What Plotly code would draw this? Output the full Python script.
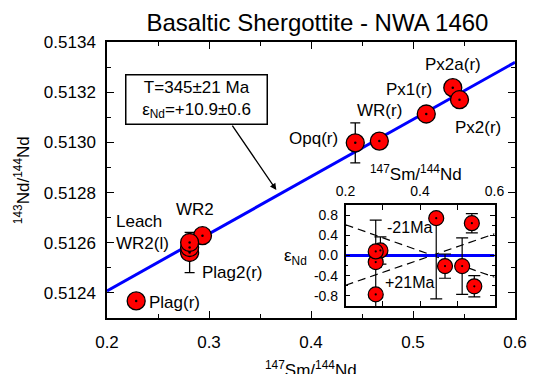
import plotly.graph_objects as go

FONT = "Liberation Sans, Arial, sans-serif"

# ---------------- data ----------------
samples = ["Plag(r)", "Plag2(r)", "WR2b", "WR2", "Leach WR2(l)", "Opq(r)", "WR(r)", "Px1(r)", "Px2a(r)", "Px2(r)"]
sm_nd = [0.2286, 0.281, 0.281, 0.2936, 0.281, 0.4434, 0.467, 0.513, 0.539, 0.5456]
nd_nd = [0.512368, 0.512561, 0.512581, 0.512628, 0.512601, 0.512998, 0.513005, 0.513113, 0.513218, 0.513170]
nd_err = [0, 0.00008, 0, 0, 0, 0.00008, 0, 0, 0, 0]

# isochron
iso_x = [0.2, 0.6]
iso_y = [0.512408, 0.513319]

# inset: epsilon Nd deviation from isochron
eps_x = [0.281, 0.281, 0.2936, 0.281, 0.4434, 0.467, 0.513, 0.539, 0.5456]
eps_y = [-0.77, -0.13, 0.10, 0.08, 0.74, -0.21, -0.21, 0.64, -0.61]
eps_err_plus = [1.47, 0.10, 0.27, 0.10, 0.0, 0.24, 0.56, 0.19, 0.21]
eps_err_minus = [1.47, 0.10, 0.27, 0.10, 1.60, 0.24, 0.56, 0.19, 0.21]

ref_x = [0.2, 0.6]
ref_y = [0.0, 0.0]
minus21_y = [0.61, -0.43]
plus21_y = [-0.59, 0.43]

main_xticks = [0.2, 0.3, 0.4, 0.5, 0.6]
main_yticks = [0.5124, 0.5126, 0.5128, 0.5130, 0.5132, 0.5134]
inset_xticks = [0.2, 0.3, 0.4, 0.5, 0.6]
inset_xlabels = ["0.2", "", "0.4", "", "0.6"]
inset_yticks = [-0.8, -0.4, 0.0, 0.4, 0.8]
inset_ylabels = ["-0.8", "-0.4", "0.0", "0.4", "0.8"]

# label offsets (pixels) relative to each point
labels = {
    "Plag(r)": ("Plag(r)", 11, -2, "left"),
    "Leach WR2(l)": ("Leach<br>WR2(l)", -19, 10, "right"),
    "WR2": ("WR2", -7, 26, "center"),
    "Plag2(r)": ("Plag2(r)", 10, -20, "left"),
    "Opq(r)": ("Opq(r)", -15, 4, "right"),
    "WR(r)": ("WR(r)", 0, 31, "center"),
    "Px1(r)": ("Px1(r)", -17, 25, "center"),
    "Px2a(r)": ("Px2a(r)", 0, 23, "center"),
    "Px2(r)": ("Px2(r)", 18, -28, "center"),
}

fig = go.Figure()

# isochron line
fig.add_trace(go.Scatter(x=iso_x, y=iso_y, mode="lines",
                         line=dict(color="#0000ff", width=3), xaxis="x", yaxis="y",
                         showlegend=False, hoverinfo="skip"))
# main points
fig.add_trace(go.Scatter(x=sm_nd, y=nd_nd, mode="markers",
                         marker=dict(size=18, color="#ff0000", line=dict(color="black", width=1.3)),
                         error_y=dict(type="data", array=nd_err, visible=True, color="black",
                                      thickness=1.3, width=5),
                         xaxis="x", yaxis="y", showlegend=False))
fig.add_trace(go.Scatter(x=sm_nd, y=nd_nd, mode="markers",
                         marker=dict(size=2.5, color="black"), xaxis="x", yaxis="y",
                         showlegend=False, hoverinfo="skip"))

# inset
fig.add_trace(go.Scatter(x=ref_x, y=minus21_y, mode="lines",
                         line=dict(color="black", width=1.2, dash="8px,5px"),
                         xaxis="x2", yaxis="y2", showlegend=False))
fig.add_trace(go.Scatter(x=ref_x, y=plus21_y, mode="lines",
                         line=dict(color="black", width=1.2, dash="8px,5px"),
                         xaxis="x2", yaxis="y2", showlegend=False))
fig.add_trace(go.Scatter(x=ref_x, y=ref_y, mode="lines",
                         line=dict(color="#0000ff", width=3),
                         xaxis="x2", yaxis="y2", showlegend=False))
fig.add_trace(go.Scatter(x=eps_x, y=eps_y, mode="markers",
                         marker=dict(size=15, color="#ff0000", line=dict(color="black", width=1.2)),
                         error_y=dict(type="data", symmetric=False, array=eps_err_plus,
                                      arrayminus=eps_err_minus, visible=True, color="black",
                                      thickness=1.2, width=6),
                         xaxis="x2", yaxis="y2", showlegend=False))
fig.add_trace(go.Scatter(x=eps_x, y=eps_y, mode="markers",
                         marker=dict(size=2.2, color="black"), xaxis="x2", yaxis="y2",
                         showlegend=False, hoverinfo="skip"))

annotations = []
for name, xv, yv in zip(samples, sm_nd, nd_nd):
    if name in labels:
        txt, dx, dy, anch = labels[name]
        annotations.append(dict(x=xv, y=yv, xref="x", yref="y", text=txt, showarrow=False,
                                xanchor=anch, yanchor="middle", xshift=dx, yshift=dy,
                                align="left", font=dict(family=FONT, size=17, color="black")))

# text box and arrow
annotations.append(dict(x=0.2196, y=0.7917, xref="paper", yref="paper",
                        text="T=345±21 Ma<br>ε<sub>Nd</sub>=+10.9±0.6", showarrow=False,
                        xanchor="center", yanchor="middle", width=136, height=44,
                        bordercolor="black", borderwidth=1.5, borderpad=2, bgcolor="white",
                        font=dict(family=FONT, size=17, color="black")))
annotations.append(dict(x=0.366, y=iso_y[0] + (0.366 - iso_x[0]) * (iso_y[1] - iso_y[0]) / (iso_x[1] - iso_x[0]),
                        xref="x", yref="y", yshift=6, text="", showarrow=True,
                        ax=-45, ay=-66, arrowhead=2, arrowsize=1, arrowwidth=1.3,
                        arrowcolor="black"))

# inset labels
annotations.append(dict(x=0.7578, y=0.525, xref="paper", yref="paper",
                        text="<sup>147</sup>Sm/<sup>144</sup>Nd", showarrow=False,
                        xanchor="center", yanchor="middle",
                        font=dict(family=FONT, size=17, color="black")))
annotations.append(dict(x=0.463, y=0.221, xref="paper", yref="paper",
                        text="ε<sub>Nd</sub>", showarrow=False,
                        xanchor="center", yanchor="middle",
                        font=dict(family=FONT, size=17, color="black")))
annotations.append(dict(x=0.305, y=0.56, xref="x2", yref="y2", text="-21Ma", showarrow=False,
                        xanchor="left", yanchor="middle",
                        font=dict(family=FONT, size=16, color="black")))
annotations.append(dict(x=0.300, y=-0.54, xref="x2", yref="y2", text="+21Ma", showarrow=False,
                        xanchor="left", yanchor="middle",
                        font=dict(family=FONT, size=16, color="black")))

# axis titles
annotations.append(dict(x=0.5, y=-0.185, xref="paper", yref="paper",
                        text="<sup>147</sup>Sm/<sup>144</sup>Nd", showarrow=False,
                        xanchor="center", yanchor="middle",
                        font=dict(family=FONT, size=17, color="black")))
annotations.append(dict(x=-0.208, y=0.5, xref="paper", yref="paper",
                        text="<sup>143</sup>Nd/<sup>144</sup>Nd", showarrow=False, textangle=-90,
                        xanchor="center", yanchor="middle",
                        font=dict(family=FONT, size=17, color="black")))

axis_common = dict(showgrid=False, zeroline=False, showline=True, linecolor="black",
                   linewidth=1.5, mirror="ticks", ticks="inside", tickcolor="black",
                   tickwidth=1.3)

fig.update_layout(
    width=539, height=374, autosize=False,
    margin=dict(l=107, r=13, t=42, b=56, pad=0),
    paper_bgcolor="white", plot_bgcolor="white",
    font=dict(family=FONT, size=17, color="black"),
    title=dict(text="Basaltic Shergottite - NWA 1460", x=0.589, xanchor="center",
               y=1 - 23 / 374, yref="container", yanchor="middle",
               font=dict(family=FONT, size=24, color="black")),
    xaxis=dict(domain=[0, 1], range=[0.2, 0.6], tickvals=main_xticks,
               ticktext=[f"{v:.1f}" for v in main_xticks], ticklen=7,
               minor=dict(dtick=0.05, tick0=0.2, ticks="inside", ticklen=4, tickcolor="black"),
               tickfont=dict(size=17), ticklabelstandoff=8, anchor="y", **axis_common),
    yaxis=dict(domain=[0, 1], range=[0.5123, 0.5134], tickvals=main_yticks,
               ticktext=[f"{v:.4f}" for v in main_yticks], ticklen=7,
               minor=dict(dtick=0.0001, tick0=0.5124, ticks="inside", ticklen=4, tickcolor="black"),
               tickfont=dict(size=17), ticklabelstandoff=6, anchor="x", **axis_common),
    xaxis2=dict(domain=[0.5847, 0.9499], range=[0.2, 0.6], side="top", anchor="y2",
                tickvals=inset_xticks, ticktext=inset_xlabels, ticklen=5,
                tickfont=dict(size=14), ticklabelstandoff=2, **axis_common),
    yaxis2=dict(domain=[0.0435, 0.4094], range=[-1.0, 1.0], anchor="x2",
                tickvals=inset_yticks, ticktext=inset_ylabels, ticklen=5,
                minor=dict(dtick=0.2, tick0=0.0, ticks="inside", ticklen=3, tickcolor="black"),
                tickfont=dict(size=14), ticklabelstandoff=3, **axis_common),
    annotations=annotations,
)

fig.write_html("out.html")
